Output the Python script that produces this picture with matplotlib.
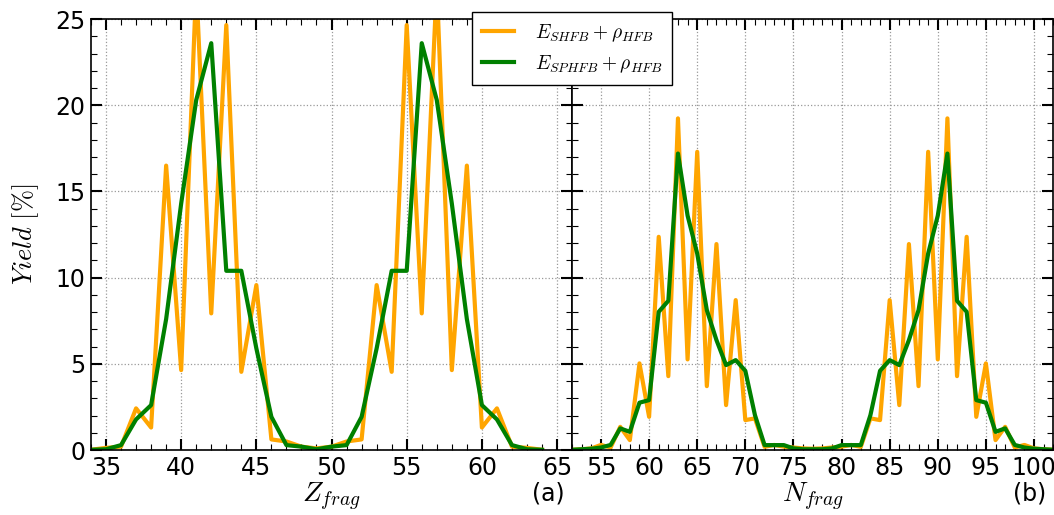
import numpy as np
import matplotlib
matplotlib.use('Agg')
import matplotlib.pyplot as plt
from matplotlib.ticker import MultipleLocator

plt.rcParams['mathtext.fontset'] = 'cm'
plt.rcParams['font.family'] = 'DejaVu Sans'

# 데이터: 전하 분포 (Z)
Z = list(range(34, 65))
yield_Z_shfb = [0.02, 0.13, 0.2, 2.42, 1.31, 16.5, 4.64, 27.0, 7.93, 24.65, 4.54,
                9.57, 0.62, 0.5, 0.2, 0.1, 0.2, 0.5, 0.62, 9.57, 4.54, 24.65,
                7.93, 27.0, 4.64, 16.5, 1.31, 2.42, 0.2, 0.13, 0.02]
yield_Z_sphfb = [0.02, 0.05, 0.29, 1.78, 2.61, 7.6, 14.3, 20.3, 23.6, 10.4, 10.4,
                 5.9, 1.93, 0.29, 0.2, 0.05, 0.2, 0.29, 1.93, 5.9, 10.4, 10.4,
                 23.6, 20.3, 14.3, 7.6, 2.61, 1.78, 0.29, 0.05, 0.02]

# 데이터: 중성자 분포 (N)
N = list(range(52, 103))
yield_N_shfb = [0.02, 0.05, 0.1, 0.3, 0.15, 1.35, 0.58, 5.03, 1.93, 12.37, 4.29,
                19.24, 5.26, 17.3, 3.71, 11.95, 2.61, 8.7, 1.74, 1.84, 0.19, 0.3,
                0.2, 0.15, 0.1, 0.08, 0.1, 0.15, 0.2, 0.3, 0.19, 1.84, 1.74, 8.7,
                2.61, 11.95, 3.71, 17.3, 5.26, 19.24, 4.29, 12.37, 1.93, 5.03,
                0.58, 1.35, 0.15, 0.3, 0.1, 0.05, 0.02]
yield_N_sphfb = [0.02, 0.05, 0.08, 0.15, 0.3, 1.26, 1.06, 2.75, 2.9, 8.02, 8.66,
                 17.2, 13.6, 11.4, 8.12, 6.38, 4.93, 5.22, 4.6, 2.03, 0.29, 0.29,
                 0.29, 0.1, 0.05, 0.05, 0.05, 0.1, 0.29, 0.29, 0.29, 2.03, 4.6,
                 5.22, 4.93, 6.38, 8.12, 11.4, 13.6, 17.2, 8.66, 8.02, 2.9, 2.75,
                 1.06, 1.26, 0.3, 0.15, 0.08, 0.05, 0.02]

label_shfb = r'$E_{SHFB}+\rho_{HFB}$'
label_sphfb = r'$E_{SPHFB}+\rho_{HFB}$'

fig = plt.figure(figsize=(10.54, 5.15), dpi=100)
ax1 = fig.add_axes([0.0863, 0.126, 0.4565, 0.837])
ax2 = fig.add_axes([0.5428, 0.126, 0.4565, 0.837])

panels = [
    (ax1, Z, yield_Z_shfb, yield_Z_sphfb, (34, 66), r'$Z_{frag}$', '(a)'),
    (ax2, N, yield_N_shfb, yield_N_sphfb, (52, 102), r'$N_{frag}$', '(b)'),
]

for ax, x, y1, y2, xlim, xlab, tag in panels:
    ax.plot(x, y1, color='orange', lw=3.0, label=label_shfb)
    ax.plot(x, y2, color='green', lw=3.0, label=label_sphfb)
    ax.set_xlim(*xlim)
    ax.set_ylim(0, 25)
    ax.xaxis.set_major_locator(MultipleLocator(5))
    ax.xaxis.set_minor_locator(MultipleLocator(1))
    ax.yaxis.set_major_locator(MultipleLocator(5))
    ax.yaxis.set_minor_locator(MultipleLocator(1))
    ax.grid(True, which='major', linestyle=':', color='#999999', lw=0.9)
    ax.tick_params(which='both', direction='in', top=True, right=True,
                   labelsize=17, pad=4)
    ax.tick_params(which='major', length=8, width=1.5)
    ax.tick_params(which='minor', length=4, width=0.8)
    ax.set_xlabel(xlab, fontsize=20, labelpad=1)
    ax.text(0.985, -0.10, tag, transform=ax.transAxes, fontsize=17,
            ha='right', va='center')
    for s in ax.spines.values():
        s.set_linewidth(1.2)

ax2.tick_params(labelleft=False)
ax1.set_ylabel(r'$Yield\ [\%]$', fontsize=19, labelpad=10)

handles, labels = ax1.get_legend_handles_labels()
leg = fig.legend(handles, labels, loc='center', bbox_to_anchor=(0.5427, 0.9058),
                 fontsize=14, frameon=True, fancybox=False, framealpha=1,
                 edgecolor='black', handlelength=1.65, handletextpad=1.1,
                 borderpad=0.5, labelspacing=0.5)
leg.get_frame().set_linewidth(1.0)

fig.savefig('out.png', dpi=100)
